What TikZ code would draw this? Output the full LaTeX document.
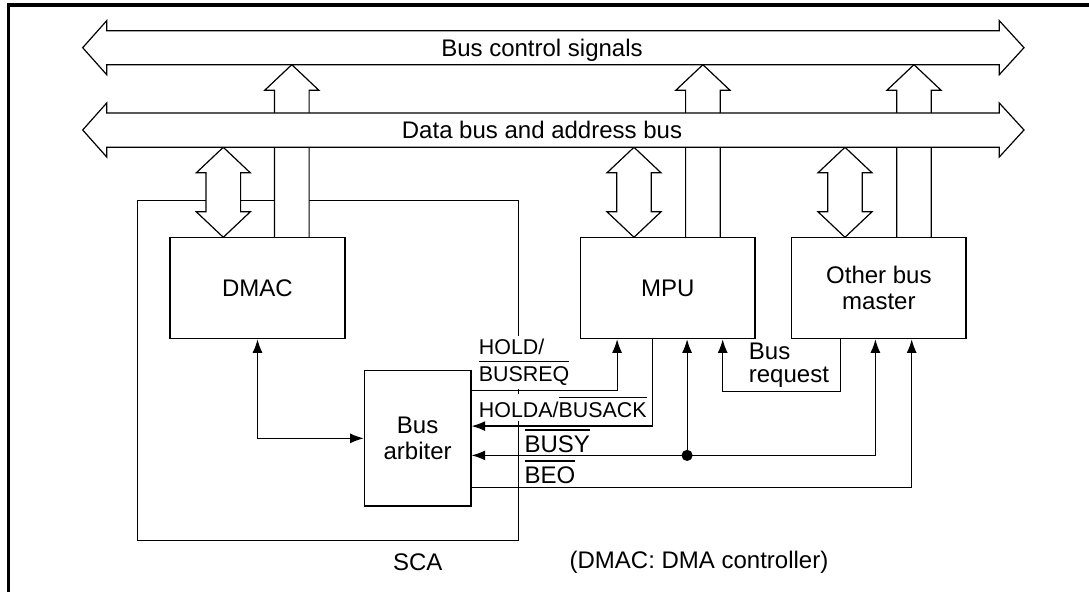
\documentclass[tikz,border=0pt]{standalone}
\usepackage{fontspec}
\setmainfont{Liberation Sans}
\usetikzlibrary{arrows.meta,calc}
\newcommand\fbig{\fontsize{12}{13.3}\selectfont}
\newcommand\fsmall{\fontsize{10.7}{12}\selectfont}
\newcommand\olin[1]{\leavevmode\vbox{\hrule height 0.6pt\kern 2.5pt\hbox{#1}}}
% single-headed fat arrow: x centre, bottom y, tip y
\newcommand\fatup[3]{\draw[fat] (#1-17.3,#2) -- (#1-17.3,#3+25.5) -- (#1-27,#3+25.5) -- (#1,#3) -- (#1+27,#3+25.5) -- (#1+17.3,#3+25.5) -- (#1+17.3,#2);}
% double-headed fat arrow: x centre, top tip y, bottom tip y
\newcommand\fatdbl[3]{\draw[fat] (#1,#2) -- (#1+27,#2+25.5) -- (#1+17.3,#2+25.5) -- (#1+17.3,#3-25.5) -- (#1+27,#3-25.5) -- (#1,#3) -- (#1-27,#3-25.5) -- (#1-17.3,#3-25.5) -- (#1-17.3,#2+25.5) -- (#1-27,#2+25.5) -- cycle;}
\begin{document}
\begin{tikzpicture}[x=0.5pt,y=-0.5pt,line width=0.6pt,
  >={Latex[length=6.8pt,width=5pt]},
  blk/.style={draw, inner sep=0pt, align=center, font=\fbig},
  fat/.style={draw, fill=white, line join=miter},
  lbl/.style={inner sep=0pt, font=\fbig, anchor=base},
  lblw/.style={inner sep=0pt, font=\fbig, anchor=base west},
  sl/.style={inner sep=1.5pt, font=\fsmall, anchor=base west, fill=white}]
\useasboundingbox (0,0) rectangle (1089,592);
% frame
\draw[line width=1.65pt] (8.3,592) -- (8.3,5) -- (1089,5);
% SCA outline
\node[draw, inner sep=0pt, minimum width=190.4pt, minimum height=169.95pt] (sca) at (327.9,370.75) {};
% fat arrows to buses
\fatup{291.8}{237.3}{64.7}
\fatup{702.9}{237.3}{64.7}
\fatup{914}{237.3}{64.7}
\fatdbl{223.3}{147.3}{237.3}
\fatdbl{634}{147.3}{237.3}
\fatdbl{845}{147.3}{237.3}
% data bus
\draw[fat] (82.7,130) -- (106.7,103) -- (106.7,113) -- (999.3,113) -- (999.3,103) -- (1024,130) -- (999.3,157) -- (999.3,147.3) -- (106.7,147.3) -- (106.7,157) -- cycle;
% bus control signals
\draw[fat] (82.7,47.7) -- (106.7,20.7) -- (106.7,30.7) -- (999.3,30.7) -- (999.3,20.7) -- (1024,47.7) -- (999.3,74.7) -- (999.3,64.7) -- (106.7,64.7) -- (106.7,74.7) -- cycle;
\node[lbl] (tbcs) at (542,56.7) {Bus control signals};
\node[lbl] (tdab) at (542,139) {Data bus and address bus};
% blocks
\node[blk, minimum width=87.5pt, minimum height=50.7pt] (dmac) at (257.5,288) {DMAC};
\node[blk, minimum width=87.15pt, minimum height=50.7pt] (mpu) at (667.85,288) {MPU};
\node[blk, minimum width=87.15pt, minimum height=50.7pt] (obm) at (878.85,288) {Other bus\\master};
\node[blk, minimum width=53.35pt, minimum height=67.65pt] (arb) at (417.65,438.35) {Bus\\arbiter};
% connectors
\draw[<->] (dmac.south) |- (arb.west);
\draw[->] ($(arb.north east)+(0,20.3)$) -| ($(mpu.south west)+(37,0)$);
\draw[->] ($(mpu.south west)+(72.6,0)$) |- ($(arb.north east)+(0,56)$);
\coordinate (mpub) at ($(mpu.south west)+(107,0)$);
\coordinate (arbb) at ($(arb.north east)+(0,85.3)$);
\coordinate (jct) at (mpub |- arbb);
\draw[<->] ($(obm.south west)+(84.3,0)$) |- (arbb);
\draw[->] (jct) -- (mpub);
\fill (jct) circle[radius=2.8pt];
\draw[->] ($(arb.north east)+(0,117.6)$) -| ($(obm.south west)+(120.6,0)$);
\draw[->] ($(obm.south west)+(49.3,0)$) -- ++(0,52.3) -| ($(mpu.south west)+(142.6,0)$);
% signal labels
\node[sl] (lhold) at (475.3,355) {HOLD/};
\node[sl] (lbreq) at (475.3,381.7) {\olin{BUSREQ}};
\node[sl] (lholda) at (475.3,418) {HOLDA/\olin{BUSACK}};
\node[lblw] (lbusy) at (524,452.3) {\olin{BUSY}};
\node[lblw] (lbeo) at (524,483.3) {\olin{BEO}};
\node[lblw] (lbr1) at (748.3,359.3) {Bus};
\node[lblw] (lbr2) at (748.3,382.3) {request};
% captions
\node[lbl] (lsca) at (417.7,571) {SCA};
\node[lbl] (ldmac) at (699,569) {(DMAC: DMA controller)};
\end{tikzpicture}
\end{document}
